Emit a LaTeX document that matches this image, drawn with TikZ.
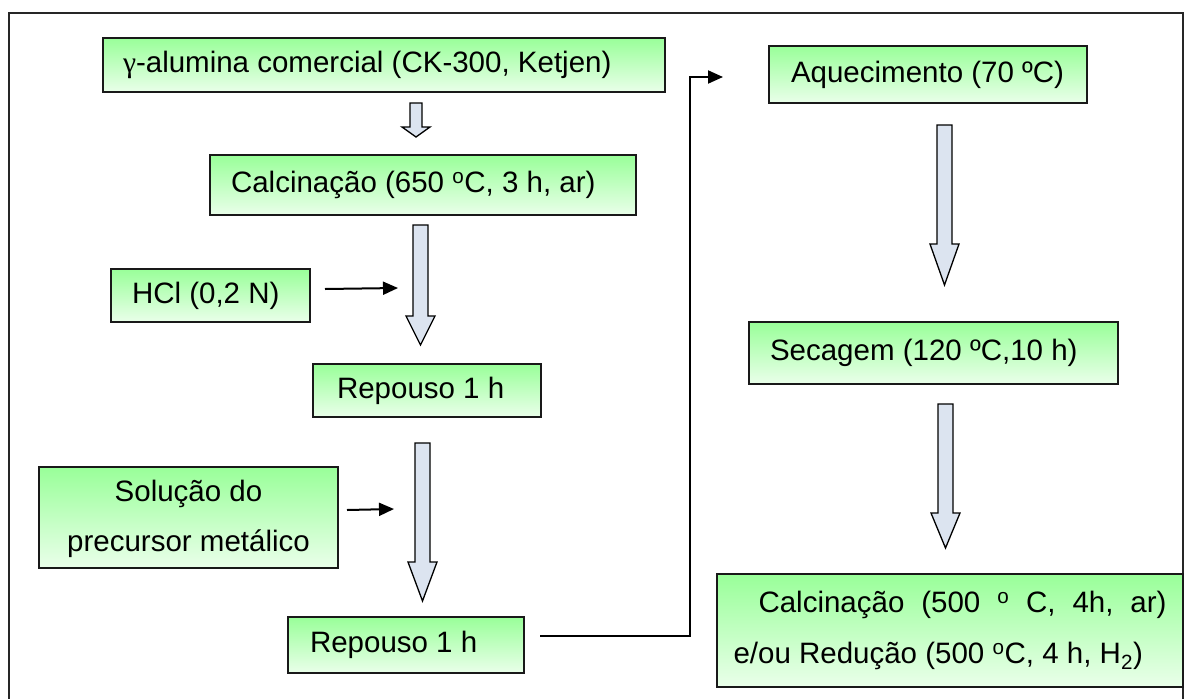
\documentclass[tikz,border=0pt]{standalone}
\usepackage{fontspec}
\setmainfont{Liberation Sans}
\newfontfamily\greekserif{Liberation Serif}
\usetikzlibrary{arrows.meta}
\definecolor{gtop}{RGB}{153,255,153}
\definecolor{gbot}{RGB}{234,255,234}
\definecolor{arrfill}{RGB}{220,228,240}
\newcommand\myblockarrow[6]{%
  \draw[blockarr] (#1-#5,#2) -- (#1+#5,#2) -- (#1+#5,#3) -- (#1+#6,#3) -- (#1,#4)
    -- (#1-#6,#3) -- (#1-#5,#3) -- cycle;}
\begin{document}
\begin{tikzpicture}[x=1pt,y=-1pt,
  box/.style={draw=black!90, line width=2pt, top color=gtop, bottom color=gbot,
    anchor=north west, inner ysep=0pt, font=\fontsize{29.5}{50}\selectfont},
  blockarr/.style={draw=black, line width=1.3pt, fill=arrfill, line join=miter},
  conn/.style={line width=2pt, -{Triangle[length=15pt,width=13pt]}},
  frame/.style={draw=black!85, line width=2.2pt}]
\useasboundingbox (0,0) rectangle (1187,699);
\clip (0,0) rectangle (1187,699);
\draw[frame] (9,13) rectangle (1183,720);

% boxes
\node[box, minimum width=562pt, minimum height=54pt, inner xsep=20pt] (alu) at (102,37)
  {\makebox[522pt][l]{{\greekserif γ}-alumina comercial (CK-300, Ketjen)}};
\node[box, minimum width=426pt, minimum height=60pt, inner xsep=21pt] (calc1) at (209,154)
  {\makebox[384pt][l]{Calcinação (650 \textsuperscript{o}C, 3 h, ar)}};
\node[box, minimum width=199pt, minimum height=53pt, inner xsep=21pt] (hcl) at (110,268)
  {\makebox[157pt][l]{HCl (0,2 N)}};
\node[box, minimum width=228pt, minimum height=53pt, inner xsep=24pt] (rep1) at (312,363)
  {\makebox[180pt][l]{Repouso 1 h}};
\node[box, minimum width=299pt, minimum height=101pt, inner xsep=0pt, align=center] (sol) at (38,466)
  {\rule{0pt}{24pt}Solução do\\precursor metálico};
\node[box, minimum width=236pt, minimum height=56pt, inner xsep=22pt] (rep2) at (287,616)
  {\makebox[192pt][l]{Repouso 1 h}};
\node[box, minimum width=318pt, minimum height=57pt, inner xsep=22pt] (aq) at (768,45)
  {\makebox[274pt][l]{Aquecimento (70 ºC)}};
\node[box, minimum width=369pt, minimum height=62pt, inner xsep=21pt] (sec) at (748,321)
  {\makebox[327pt][l]{Secagem (120 ºC,10 h)}};
\node[box, minimum width=466pt, minimum height=113pt, inner xsep=14pt, align=left,
  font=\fontsize{29.5}{51}\selectfont] (calc2) at (716,573)
  {\hbox to 433pt{\hskip25pt Calcinação\hfill(500\hfill\textsuperscript{o}\hfill C,\hfill 4h,\hfill ar)}\\
   e/ou Redução (500 \textsuperscript{o}C, 4 h, H\textsubscript{2})};

% block arrows
\myblockarrow{416}{103}{127}{137}{6}{14}
\myblockarrow{420.5}{225}{316}{345}{7.5}{14.5}
\myblockarrow{422.5}{443}{562}{601}{7.5}{14.5}
\myblockarrow{944.5}{125}{244}{285}{7.5}{14.5}
\myblockarrow{945.5}{404}{513}{548}{7.5}{14.5}

% thin arrows
\coordinate (hclT) at (398,288);
\coordinate (solT) at (394,509);
\coordinate (aqT) at (723,77);
\draw[conn] ([xshift=14pt,yshift=6.5pt]hcl.east) -- (hclT);
\draw[conn] ([xshift=8pt,yshift=7.5pt]sol.east) -- (solT);
\draw[conn] ([xshift=15pt,yshift=9pt]rep2.east) -- ++(150,0) |- (aqT);
\end{tikzpicture}
\end{document}
